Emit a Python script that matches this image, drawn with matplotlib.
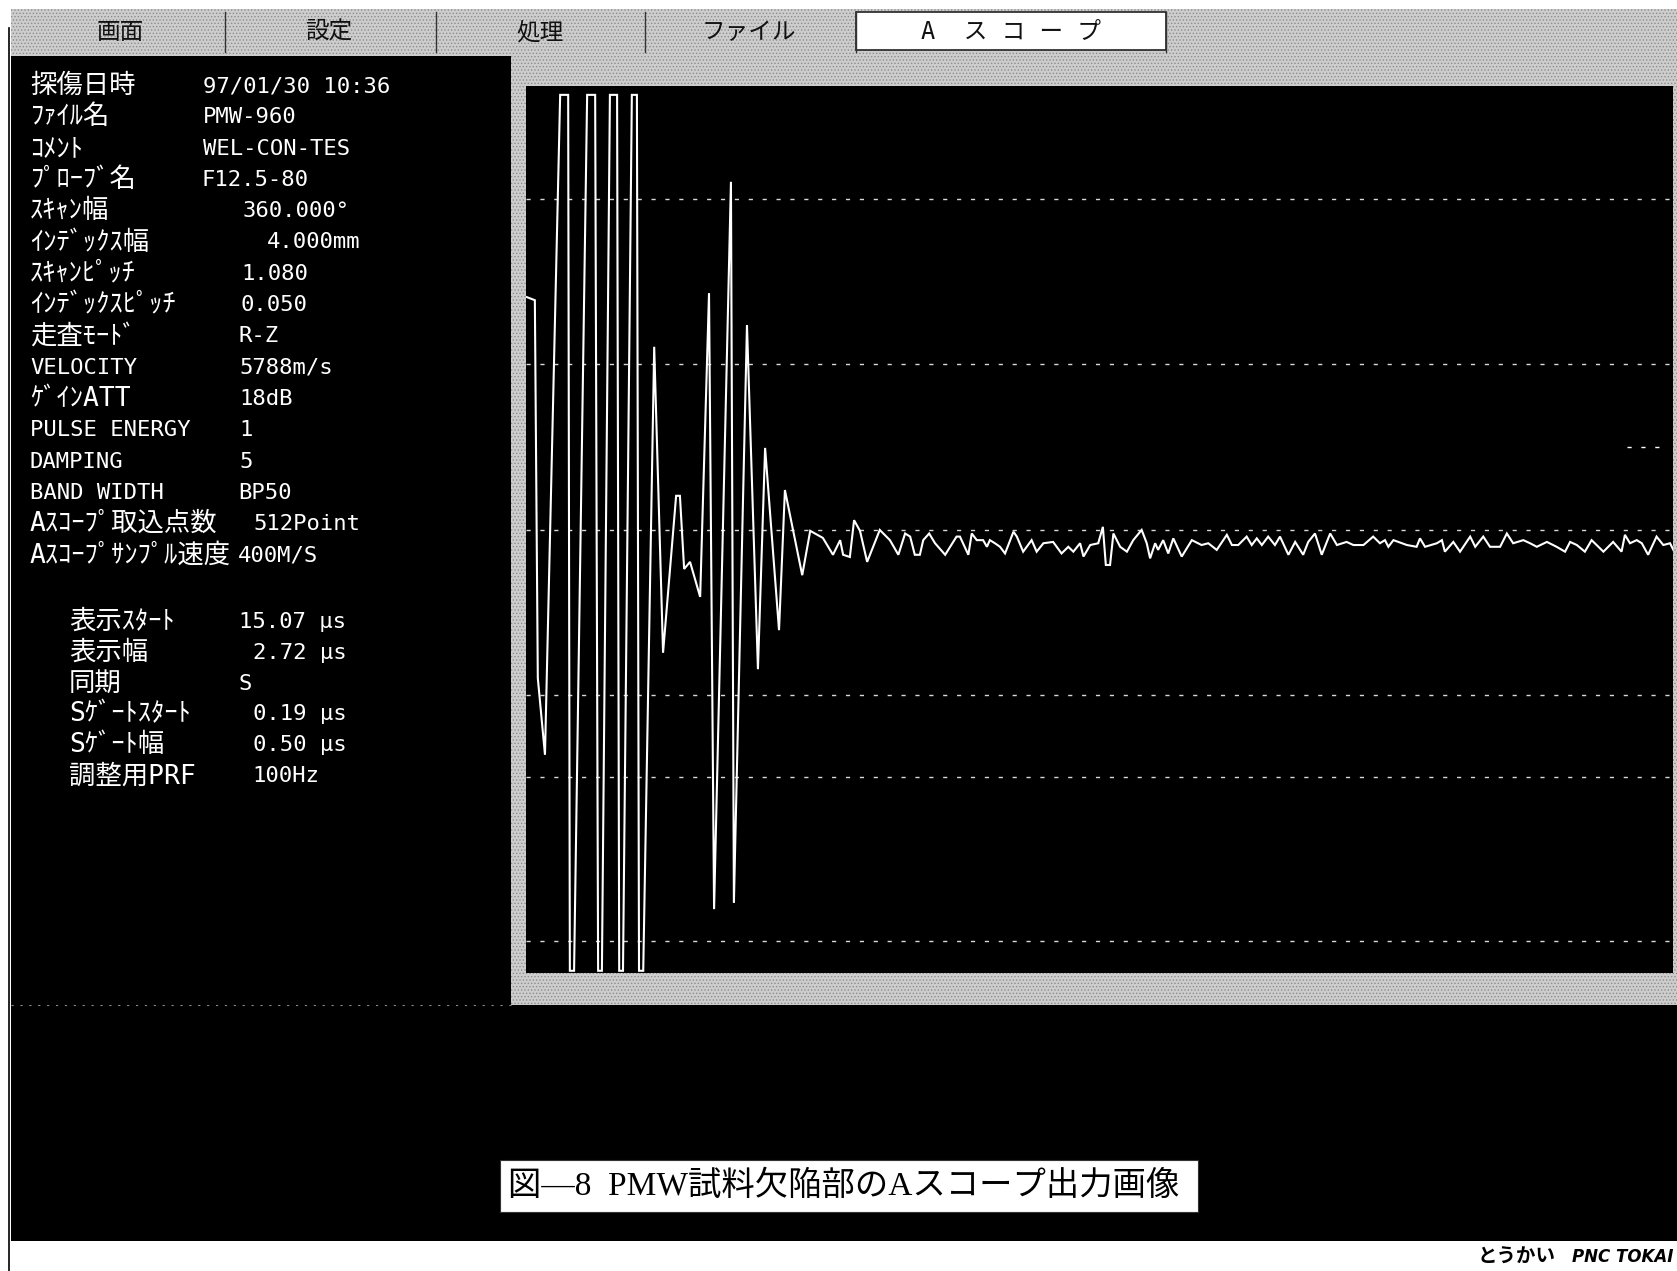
import matplotlib
matplotlib.use("Agg")
import matplotlib.pyplot as plt
from matplotlib.patches import Rectangle

# A-scope trace: time (us) and amplitude (% of screen half height)
trace_t = [15.072, 15.091, 15.098, 15.115, 15.151, 15.170, 15.174, 15.184, 15.215, 15.234,
           15.241, 15.250, 15.269, 15.286, 15.291, 15.300, 15.321, 15.333, 15.338, 15.348,
           15.374, 15.395, 15.426, 15.435, 15.445, 15.459, 15.483, 15.504, 15.516, 15.556,
           15.563, 15.594, 15.620, 15.637, 15.670, 15.684, 15.725, 15.744, 15.774, 15.798,
           15.815, 15.822, 15.838, 15.848, 15.862, 15.879,
           15.909, 15.933, 15.953, 15.969, 15.981, 15.992, 16.004, 16.012, 16.026, 16.040,
           16.064, 16.091, 16.099, 16.119, 16.127, 16.139, 16.154, 16.163, 16.170, 16.182,
           16.194, 16.206, 16.226, 16.234, 16.249, 16.269, 16.281, 16.297, 16.320, 16.340,
           16.356, 16.368, 16.384, 16.392, 16.408, 16.427, 16.438, 16.445, 16.455, 16.463,
           16.479, 16.495, 16.510, 16.530, 16.542, 16.550, 16.562, 16.569, 16.581, 16.593,
           16.605, 16.625, 16.649, 16.672, 16.688, 16.708, 16.732, 16.744, 16.759, 16.779,
           16.791, 16.803, 16.815, 16.830, 16.846, 16.858, 16.878, 16.894, 16.913, 16.925,
           16.941, 16.957, 16.977, 16.993, 17.016, 17.032, 17.056, 17.079, 17.095, 17.107,
           17.115, 17.127, 17.159, 17.182, 17.190, 17.202, 17.230, 17.242, 17.249, 17.269,
           17.285, 17.309, 17.321, 17.340, 17.356, 17.380, 17.396, 17.411, 17.435, 17.451,
           17.467, 17.491, 17.514, 17.534, 17.546, 17.562, 17.581, 17.597, 17.625, 17.648,
           17.668, 17.676, 17.688, 17.704, 17.716, 17.731, 17.751, 17.767, 17.783, 17.795]
trace_amp = [52.4, 51.7, -33.5, -50.8, 98.0, 98.0, -99.5, -99.5, 98.0, 98.0,
             -99.5, -99.5, 98.0, 98.0, -99.5, -99.5, 98.0, 98.0, -99.5, -99.5,
             41.2, -27.8, 7.6, 7.6, -8.9, -7.3, -15.2, 53.3, -85.6, 78.4,
             -84.2, 46.1, -31.5, 18.4, -22.7, 8.9, -10.3, -0.3, -1.9, -5.7,
             -2.4, -5.7, -6.2, 2.1, -0.3, -7.3,
             -0.1, -2.4, -5.7, -0.9, -1.6, -5.7, -5.7, -2.4, -0.9, -3.1,
             -5.7, -1.6, -1.6, -5.7, -0.9, -2.4, -2.4, -3.9, -2.4, -3.1,
             -3.9, -5.4, -0.5, -1.6, -5.0, -2.4, -5.0, -3.1, -2.8, -5.4,
             -3.9, -5.0, -3.1, -6.1, -3.5, -3.1, 0.6, -8.0, -8.0, -0.9,
             -3.9, -5.0, -2.4, -0.1, -3.1, -6.5, -3.1, -4.6, -2.4, -5.4,
             -2.0, -6.1, -2.4, -3.5, -3.1, -4.6, -1.2, -3.5, -3.5, -1.6,
             -3.5, -2.0, -3.5, -1.6, -3.5, -1.6, -5.7, -2.8, -5.7, -2.8,
             -0.9, -5.7, -0.9, -3.5, -2.8, -3.5, -3.5, -1.6, -3.1, -2.4,
             -3.9, -2.4, -3.5, -3.9, -2.0, -3.9, -3.1, -2.4, -5.0, -2.8,
             -5.0, -1.6, -3.9, -1.6, -3.9, -3.9, -0.9, -3.1, -2.4, -3.1,
             -3.9, -2.8, -3.9, -5.0, -2.8, -3.5, -5.0, -2.4, -5.0, -2.8,
             -5.0, -1.2, -3.1, -2.4, -3.1, -5.7, -1.6, -3.5, -3.1, -5.4]

# graticule levels and the short gate marker on the right
grid_levels = [74.5, 37.3, 0.0, -37.3, -55.9, -92.8]
gate_level = 18.6
gate_t = [17.681, 17.778]

# display window (start, width) in us
disp_start = 15.07
disp_width = 2.72

menu_items = ["画面", "設定", "処理", "ファイル", "A  ス コ ー プ"]

param_names = ["探傷日時", "ﾌｧｲﾙ名", "ｺﾒﾝﾄ", "ﾌﾟﾛｰﾌﾞ名", "ｽｷｬﾝ幅", "ｲﾝﾃﾞｯｸｽ幅",
               "ｽｷｬﾝﾋﾟｯﾁ", "ｲﾝﾃﾞｯｸｽﾋﾟｯﾁ", "走査ﾓｰﾄﾞ", "VELOCITY", "ｹﾞｲﾝATT",
               "PULSE ENERGY", "DAMPING", "BAND WIDTH", "Aｽｺｰﾌﾟ取込点数", "Aｽｺｰﾌﾟｻﾝﾌﾟﾙ速度"]
param_values = ["97/01/30 10:36", "PMW-960", "WEL-CON-TES", "F12.5-80", "360.000°", "4.000mm",
                "1.080", "0.050", "R-Z", "5788m/s", "18dB",
                "1", "5", "BP50", "512Point", "400M/S"]
sync_names = ["表示ｽﾀｰﾄ", "表示幅", "同期", "Sｹﾞｰﾄｽﾀｰﾄ", "Sｹﾞｰﾄ幅", "調整用PRF"]
sync_values = ["15.07 μs", "2.72 μs", "S", "0.19 μs", "0.50 μs", "100Hz"]

caption = "図—8  PMW試料欠陥部のAスコープ出力画像"

# ---- layout (pixel coordinates of the page) ----
W, H = 1677, 1271
param_val_x = [203, 203, 203, 202, 243, 267, 241, 241, 239, 239, 239, 239, 239, 238, 253, 238]
sync_val_x = [239, 253, 239, 253, 253, 252]
tab_sep = [225, 436, 645, 856, 1166]
tab_cx = [120, 329, 540, 749, 1011]
gray = "#cdcdcd"
grain = "#8c8c8c"

mono = ["DejaVu Sans Mono", "Noto Sans CJK JP"]
plt.rcParams["hatch.linewidth"] = 0.6


def label_size(s):
    # the screen font draws kana/kanji wider than the latin glyphs
    return 19 if any(ord(c) > 127 for c in s) else 16


fig = plt.figure(figsize=(W / 100, H / 100), dpi=100)
fig.patch.set_facecolor("white")

bg = fig.add_axes([0, 0, 1, 1])
bg.set_xlim(0, W)
bg.set_ylim(H, 0)
bg.axis("off")

# menu bar
bg.add_patch(Rectangle((11, 9), W - 11, 47, facecolor=gray, edgecolor=grain,
                       hatch=".....", lw=0))
bg.add_patch(Rectangle((856, 12), 310, 38, facecolor="white", edgecolor="#222", lw=1.2))
for sx in tab_sep:
    bg.plot([sx, sx], [12, 52], color="#333", lw=1.0)
for cx, name in zip(tab_cx, menu_items):
    bg.text(cx, 32, name, ha="center", va="center", fontsize=17, color="#111",
            family=mono)

# black panels and grey frame round the scope
bg.add_patch(Rectangle((11, 56), 500, 949, facecolor="black", edgecolor="none"))
bg.add_patch(Rectangle((511, 56), W - 511, 949, facecolor=gray, edgecolor=grain,
                       hatch=".....", lw=0))
bg.add_patch(Rectangle((11, 1005), W - 11, 236, facecolor="black", edgecolor="none"))
bg.plot([9, 9], [28, H], color="black", lw=1.2)
bg.plot([11, 511], [1005, 1005], color="#888", lw=0.8, ls=(0, (2, 6)))

# parameter listing
for i, (name, val) in enumerate(zip(param_names, param_values)):
    y = 86 + 31.3 * i
    bg.text(30, y, name, ha="left", va="center", fontsize=label_size(name), color="white",
            family=mono)
    bg.text(param_val_x[i], y, val, ha="left", va="center", fontsize=16, color="white",
            family=mono)
for i, (name, val) in enumerate(zip(sync_names, sync_values)):
    y = 621.7 + 30.9 * i
    bg.text(69, y, name, ha="left", va="center", fontsize=label_size(name), color="white",
            family=mono)
    bg.text(sync_val_x[i], y, val, ha="left", va="center", fontsize=16, color="white",
            family=mono)

# caption box
bg.add_patch(Rectangle((500, 1160), 698, 52, facecolor="white", edgecolor="#333", lw=0.8))
bg.text(508, 1186, caption, ha="left", va="center", fontsize=24, color="black",
        family=["Liberation Serif", "Noto Sans CJK JP"])

# logo line at the foot
bg.text(1556, 1257, "とうかい", ha="right", va="center", fontsize=14, fontweight="bold",
        color="black", family=["Noto Sans CJK JP"])
bg.text(1673, 1257, "PNC TOKAI", ha="right", va="center", fontsize=12, fontweight="bold",
        fontstyle="italic", color="black", family=["DejaVu Sans"])

# ---- scope screen ----
x0, x1, y0, y1 = 526, 1673, 86, 973
ax = fig.add_axes([x0 / W, 1 - y1 / H, (x1 - x0) / W, (y1 - y0) / H])
ax.set_facecolor("black")
ax.set_xlim(disp_start, disp_start + disp_width)
ax.set_ylim(-100, 100)
for lv in grid_levels:
    ax.axhline(lv, color="white", lw=1.0, ls=(0, (3, 7)), alpha=0.85)
ax.plot(gate_t, [gate_level, gate_level], color="white", lw=1.0, ls=(0, (3, 7)))
ax.plot(trace_t, trace_amp, color="white", lw=1.5, solid_joinstyle="miter")
ax.set_xticks([])
ax.set_yticks([])
for sp in ax.spines.values():
    sp.set_visible(False)

fig.savefig("out.png", dpi=100, facecolor=fig.get_facecolor())
